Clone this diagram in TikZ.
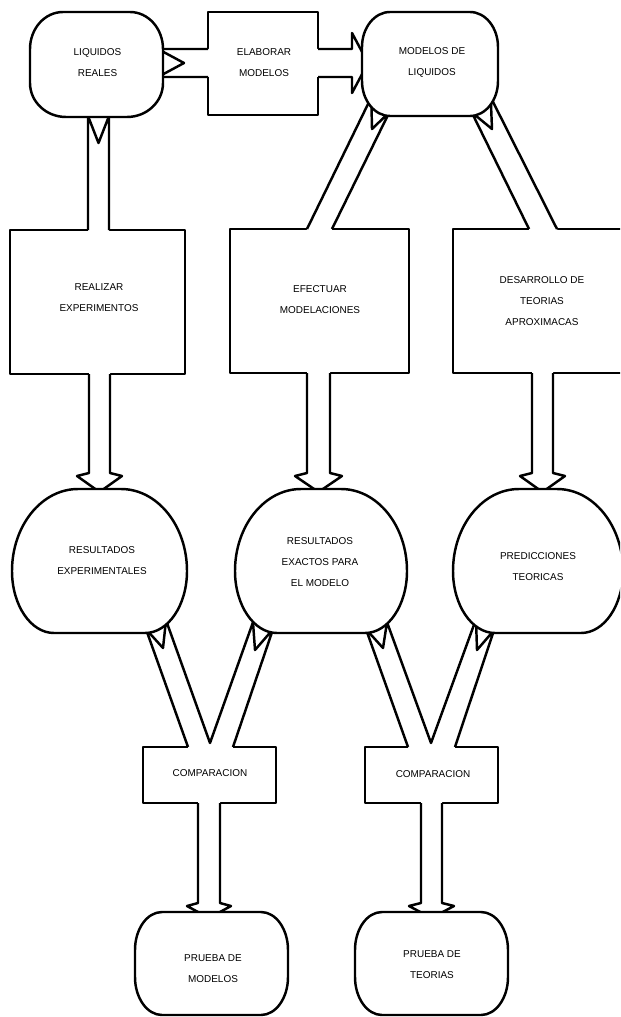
\documentclass[tikz,border=0pt]{standalone}
\usepackage{fontspec}
\setmainfont{Liberation Sans}
% blob: #1 style, #2 x0, #3 y0, #4 x1, #5 y1, #6 top rx, #7 top ry, #8 bottom rx, #9 bottom ry
\newcommand\blob[9]{%
  \path[#1] (#2+#6,#3) -- (#4-#6,#3)
    arc[start angle=-90,end angle=0,x radius=#6,y radius=#7] -- (#4,#5-#9)
    arc[start angle=0,end angle=90,x radius=#8,y radius=#9] -- (#2+#8,#5)
    arc[start angle=90,end angle=180,x radius=#8,y radius=#9] -- (#2,#3+#7)
    arc[start angle=180,end angle=270,x radius=#6,y radius=#7] -- cycle;}
\begin{document}
\begin{tikzpicture}[x=0.03cm,y=-0.03cm,
  ln/.style={line width=2.1pt,line join=round},
  outl/.style={ln,fill=white,draw=black},
  txt/.style={align=center,font=\fontsize{8.5}{17.9}\selectfont,inner sep=0pt}]
\useasboundingbox (0,0) rectangle (620,1017);
\clip (0,0) rectangle (620,1017);

% ---------- boxes ----------
\path[outl] (208,12) rectangle (318,115);
\path[outl] (10,230) rectangle (185,374);
\path[outl] (230,229) rectangle (409,373);
\path[outl] (453,229) rectangle (645,373);
\path[outl] (143,747) rectangle (276,803);
\path[outl] (365,747) rectangle (498,803);

% ---------- block arrows ----------
% A -> ELABORAR
\fill[white] (158,49) -- (209.8,49) -- (209.8,77) -- (158,77) -- (184,63) -- cycle;
\draw[ln] (208,49) -- (158,49) -- (184,63) -- (158,77) -- (208,77);
% ELABORAR -> B
\fill[white] (316.2,49) -- (352,49) -- (352,33) -- (368,63) -- (352,93) -- (352,77) -- (316.2,77) -- cycle;
\draw[ln] (318,49) -- (352,49) -- (352,33) -- (368,63) -- (352,93) -- (352,77) -- (318,77);
% A -> REALIZAR
\fill[white] (88,116) -- (98.5,143) -- (109,116) -- (109,231.8) -- (88,231.8) -- cycle;
\draw[ln] (88,230) -- (88,116) -- (98.5,143) -- (109,116) -- (109,230);
% REALIZAR -> C
\fill[white] (89,372) -- (89,473) -- (77,476) -- (99.5,492) -- (122,476) -- (110,473) -- (110,372) -- cycle;
\draw[ln] (89,374) -- (89,473) -- (77,476) -- (99.5,492) -- (122,476) -- (110,473) -- (110,374);
% B -> EFECTUAR
\fill[white] (371.3,97.3) -- (372,129) -- (389.3,112.3) -- (331.3,230.8) -- (306.3,230.8) -- cycle;
\draw[ln] (307,229) -- (371.3,97.3) -- (372,129) -- (389.3,112.3) -- (332,229);
% EFECTUAR -> D
\fill[white] (307,371) -- (307,473) -- (295,476) -- (318.5,492) -- (342,476) -- (330,473) -- (330,371) -- cycle;
\draw[ln] (307,373) -- (307,473) -- (295,476) -- (318.5,492) -- (342,476) -- (330,473) -- (330,373);
% B -> DESARROLLO
\fill[white] (471.7,112.3) -- (492,129) -- (490.7,97.3) -- (557.8,230.8) -- (529.7,230.8) -- cycle;
\draw[ln] (529,229) -- (471.7,112.3) -- (492,129) -- (490.7,97.3) -- (557,229);
% DESARROLLO -> E
\fill[white] (532,371) -- (532,473) -- (520,476) -- (542.5,492) -- (565,476) -- (553,473) -- (553,371) -- cycle;
\draw[ln] (532,373) -- (532,473) -- (520,476) -- (542.5,492) -- (565,476) -- (553,473) -- (553,373);
% C, D -> COMPARACION 1
\fill[white] (146,629.2) -- (188.6,748.8) -- (232.4,748.8) -- (273,629.2) -- (255,650) -- (253,622.2) -- (210,743) -- (166,620.2) -- (163,648) -- cycle;
\draw[ln] (188,747) -- (146,629.2) -- (163,648) -- (166,620.2) -- (210,743) -- (253,622.2) -- (255,650) -- (273,629.2) -- (233,747);
% D, E -> COMPARACION 2
\fill[white] (366,629.2) -- (408.7,748.8) -- (454.4,748.8) -- (494,630.2) -- (477,650) -- (476,619.2) -- (431,743) -- (387,622.2) -- (383,648) -- cycle;
\draw[ln] (408,747) -- (366,629.2) -- (383,648) -- (387,622.2) -- (431,743) -- (476,619.2) -- (477,650) -- (494,630.2) -- (455,747);
% COMPARACION 1 -> F
\fill[white] (198,801) -- (198,903) -- (187,906) -- (209,918) -- (231,906) -- (220,903) -- (220,801) -- cycle;
\draw[ln] (198,803) -- (198,903) -- (187,906) -- (209,918) -- (231,906) -- (220,903) -- (220,803);
% COMPARACION 2 -> G
\fill[white] (421,801) -- (421,903) -- (409,906) -- (431.5,918) -- (454,906) -- (442,903) -- (442,801) -- cycle;
\draw[ln] (421,803) -- (421,903) -- (409,906) -- (431.5,918) -- (454,906) -- (442,903) -- (442,803);

% ---------- rounded shapes ----------
\blob{outl}{30}{12}{163}{117}{33}{37}{36}{34}
\blob{outl}{362}{12}{498}{116}{28}{35}{28}{35}
\blob{outl}{12}{489}{187}{633}{66}{82}{42}{62}
\blob{outl}{235}{489}{407}{633}{66}{82}{42}{62}
\blob{outl}{453}{489}{623}{633}{66}{82}{42}{62}
\blob{outl}{135}{912}{288}{1015}{27}{38}{27}{38}
\blob{outl}{355}{912}{508}{1015}{27}{38}{27}{38}

% ---------- texts ----------
\node[txt] (liqr) at (97.5,63) {LIQUIDOS\\REALES};
\node[txt] (elab) at (264,63) {ELABORAR\\MODELOS};
\node[txt] (modl) at (432,62) {MODELOS DE\\LIQUIDOS};
\node[txt] (real) at (99,297.5) {REALIZAR\\EXPERIMENTOS};
\node[txt] (efec) at (320,299.5) {EFECTUAR\\MODELACIONES};
\node[txt] (desa) at (542,301.5) {DESARROLLO DE\\TEORIAS\\APROXIMACAS};
\node[txt] (rexp) at (102,561) {RESULTADOS\\EXPERIMENTALES};
\node[txt] (rexa) at (320,562.5) {RESULTADOS\\EXACTOS PARA\\EL MODELO};
\node[txt] (pred) at (538,567) {PREDICCIONES\\TEORICAS};
\node[txt] (com1) at (210,773) {COMPARACION};
\node[txt] (com2) at (433,774) {COMPARACION};
\node[txt] (prm) at (213,969) {PRUEBA DE\\MODELOS};
\node[txt] (prt) at (432,965) {PRUEBA DE\\TEORIAS};
\end{tikzpicture}
\end{document}
